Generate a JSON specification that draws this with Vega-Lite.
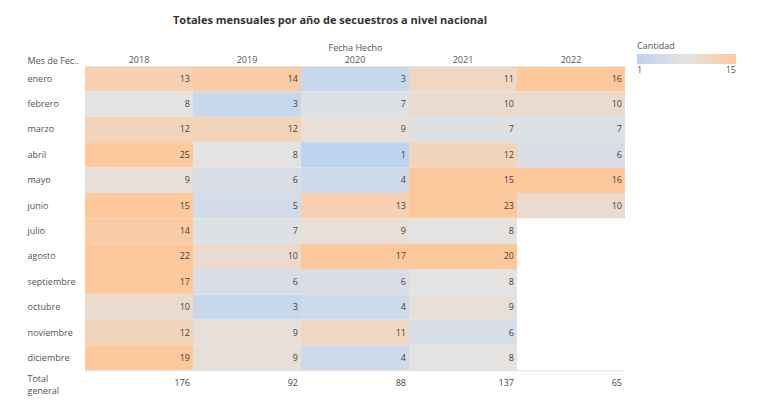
{
  "$schema": "https://vega.github.io/schema/vega-lite/v6.json",
  "autosize": "none",
  "width": 540,
  "height": 330,
  "padding": {"left": 85, "top": 66, "right": 143, "bottom": 14},
  "background": "white",
  "config": {
    "font": "Open Sans",
    "view": {"stroke": null},
    "axis": {"labelFont": "Open Sans", "titleFont": "Open Sans"}
  },
  "title": {
    "text": "Totales mensuales por año de secuestros a nivel nacional",
    "fontSize": 11,
    "fontWeight": "bold",
    "color": "#333333",
    "anchor": "start",
    "frame": "group",
    "dx": 88,
    "offset": 16
  },
  "datasets": {
    "cells": [
      {"mes": "enero", "anio": "2018", "valor": 13},
      {"mes": "febrero", "anio": "2018", "valor": 8},
      {"mes": "marzo", "anio": "2018", "valor": 12},
      {"mes": "abril", "anio": "2018", "valor": 25},
      {"mes": "mayo", "anio": "2018", "valor": 9},
      {"mes": "junio", "anio": "2018", "valor": 15},
      {"mes": "julio", "anio": "2018", "valor": 14},
      {"mes": "agosto", "anio": "2018", "valor": 22},
      {"mes": "septiembre", "anio": "2018", "valor": 17},
      {"mes": "octubre", "anio": "2018", "valor": 10},
      {"mes": "noviembre", "anio": "2018", "valor": 12},
      {"mes": "diciembre", "anio": "2018", "valor": 19},
      {"mes": "enero", "anio": "2019", "valor": 14},
      {"mes": "febrero", "anio": "2019", "valor": 3},
      {"mes": "marzo", "anio": "2019", "valor": 12},
      {"mes": "abril", "anio": "2019", "valor": 8},
      {"mes": "mayo", "anio": "2019", "valor": 6},
      {"mes": "junio", "anio": "2019", "valor": 5},
      {"mes": "julio", "anio": "2019", "valor": 7},
      {"mes": "agosto", "anio": "2019", "valor": 10},
      {"mes": "septiembre", "anio": "2019", "valor": 6},
      {"mes": "octubre", "anio": "2019", "valor": 3},
      {"mes": "noviembre", "anio": "2019", "valor": 9},
      {"mes": "diciembre", "anio": "2019", "valor": 9},
      {"mes": "enero", "anio": "2020", "valor": 3},
      {"mes": "febrero", "anio": "2020", "valor": 7},
      {"mes": "marzo", "anio": "2020", "valor": 9},
      {"mes": "abril", "anio": "2020", "valor": 1},
      {"mes": "mayo", "anio": "2020", "valor": 4},
      {"mes": "junio", "anio": "2020", "valor": 13},
      {"mes": "julio", "anio": "2020", "valor": 9},
      {"mes": "agosto", "anio": "2020", "valor": 17},
      {"mes": "septiembre", "anio": "2020", "valor": 6},
      {"mes": "octubre", "anio": "2020", "valor": 4},
      {"mes": "noviembre", "anio": "2020", "valor": 11},
      {"mes": "diciembre", "anio": "2020", "valor": 4},
      {"mes": "enero", "anio": "2021", "valor": 11},
      {"mes": "febrero", "anio": "2021", "valor": 10},
      {"mes": "marzo", "anio": "2021", "valor": 7},
      {"mes": "abril", "anio": "2021", "valor": 12},
      {"mes": "mayo", "anio": "2021", "valor": 15},
      {"mes": "junio", "anio": "2021", "valor": 23},
      {"mes": "julio", "anio": "2021", "valor": 8},
      {"mes": "agosto", "anio": "2021", "valor": 20},
      {"mes": "septiembre", "anio": "2021", "valor": 8},
      {"mes": "octubre", "anio": "2021", "valor": 9},
      {"mes": "noviembre", "anio": "2021", "valor": 6},
      {"mes": "diciembre", "anio": "2021", "valor": 8},
      {"mes": "enero", "anio": "2022", "valor": 16},
      {"mes": "febrero", "anio": "2022", "valor": 10},
      {"mes": "marzo", "anio": "2022", "valor": 7},
      {"mes": "abril", "anio": "2022", "valor": 6},
      {"mes": "mayo", "anio": "2022", "valor": 16},
      {"mes": "junio", "anio": "2022", "valor": 10}
    ],
    "totals": [
      {"mes": "Total general", "anio": "2018", "valor": 176},
      {"mes": "Total general", "anio": "2019", "valor": 92},
      {"mes": "Total general", "anio": "2020", "valor": 88},
      {"mes": "Total general", "anio": "2021", "valor": 137},
      {"mes": "Total general", "anio": "2022", "valor": 65}
    ]
  },
  "encoding": {
    "x": {
      "field": "anio",
      "type": "ordinal",
      "scale": {"domain": ["2018", "2019", "2020", "2021", "2022"], "paddingInner": 0, "paddingOuter": 0},
      "axis": {
        "orient": "top",
        "title": "Fecha Hecho",
        "titleFontSize": 9,
        "titleFontWeight": "normal",
        "titleColor": "#555555",
        "titlePadding": 3,
        "labelFontSize": 9,
        "labelColor": "#555555",
        "labelAngle": 0,
        "labelPadding": 2,
        "ticks": false,
        "domain": true,
        "domainColor": "#e6e6e6"
      }
    },
    "y": {
      "field": "mes",
      "type": "ordinal",
      "scale": {
        "domain": ["enero", "febrero", "marzo", "abril", "mayo", "junio", "julio", "agosto", "septiembre", "octubre", "noviembre", "diciembre", "Total general"],
        "paddingInner": 0,
        "paddingOuter": 0
      },
      "axis": {
        "title": "Mes de Fec..",
        "titleAngle": 0,
        "titleAlign": "left",
        "titleBaseline": "middle",
        "titleX": -58,
        "titleY": -6,
        "titleFontSize": 9,
        "titleFontWeight": "normal",
        "titleColor": "#555555",
        "labelAlign": "left",
        "labelPadding": 58,
        "labelFontSize": 9,
        "labelColor": "#555555",
        "labelExpr": "datum.value == 'Total general' ? ['Total', 'general'] : datum.value",
        "labelLineHeight": 12,
        "labelOffset": {"condition": {"test": "datum.value == 'Total general'", "value": -4}, "value": 0},
        "ticks": false,
        "domain": false
      }
    }
  },
  "layer": [
    {
      "data": {"name": "cells"},
      "mark": {"type": "rect"},
      "encoding": {
        "color": {
          "field": "valor",
          "type": "quantitative",
          "scale": {
            "domain": [1, 8, 15],
            "range": ["#bdd3f0", "#e4e3e2", "#fdc89c"],
            "clamp": true,
            "interpolate": "rgb"
          },
          "legend": {
            "title": "Cantidad",
            "orient": "none",
            "legendX": 552,
            "legendY": -24,
            "direction": "horizontal",
            "gradientLength": 99,
            "gradientThickness": 10,
            "gradientStrokeWidth": 0,
            "values": [1, 15],
            "titleFontSize": 9,
            "titleFontWeight": "normal",
            "titleColor": "#555555",
            "titlePadding": 3,
            "labelFontSize": 9,
            "labelColor": "#555555"
          }
        }
      }
    },
    {
      "data": {"name": "cells"},
      "mark": {"type": "text", "align": "right", "baseline": "middle", "dx": -3, "fontSize": 9, "color": "#444444"},
      "encoding": {
        "x": {"field": "anio", "type": "ordinal", "bandPosition": 1},
        "text": {"field": "valor", "type": "quantitative"}
      }
    },
    {
      "data": {"name": "totals"},
      "mark": {"type": "rule", "color": "#e6e6e6", "strokeWidth": 1},
      "encoding": {
        "y": {"field": "mes", "type": "ordinal", "bandPosition": 0},
        "x": {"value": 0},
        "x2": {"value": 540}
      }
    },
    {
      "data": {"name": "totals"},
      "mark": {"type": "text", "align": "right", "baseline": "middle", "dx": -3, "fontSize": 9, "color": "#444444"},
      "encoding": {
        "x": {"field": "anio", "type": "ordinal", "bandPosition": 1},
        "text": {"field": "valor", "type": "quantitative"}
      }
    }
  ]
}
